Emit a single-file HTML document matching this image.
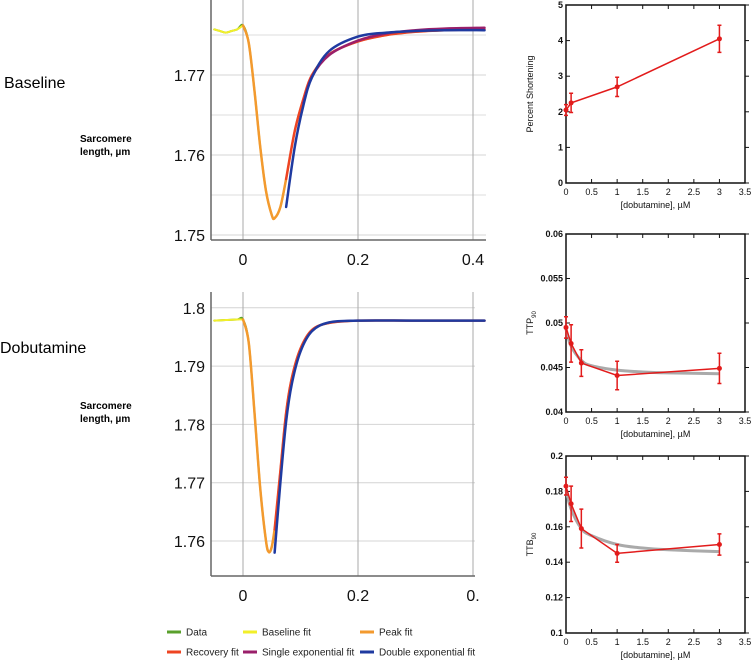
<!DOCTYPE html>
<html><head><meta charset="utf-8"><style>
body{margin:0;background:#fff;width:751px;height:664px;overflow:hidden;font-family:"Liberation Sans",Arial,sans-serif}
svg{position:absolute;left:0;top:0}
</style></head><body>
<svg id="s" width="751" height="664" xmlns="http://www.w3.org/2000/svg">
<text x="4" y="88" font-size="16">Baseline</text>
<text x="0" y="353" font-size="16">Dobutamine</text>
<text x="80" y="142" font-size="10" font-weight="bold"><tspan x="80">Sarcomere</tspan><tspan x="80" dy="13">length, µm</tspan></text>
<text x="80" y="409" font-size="10" font-weight="bold"><tspan x="80">Sarcomere</tspan><tspan x="80" dy="13">length, µm</tspan></text>
<g id="legend" font-size="10" fill="#222"></g>
</svg>
<script>
// ---- Trace data (time s, length µm) ----
const baseT=[-0.05,-0.04,-0.03,-0.02,-0.01,0,0.01,0.02,0.03,0.04,0.05,0.055,0.065,0.075,0.09,0.105,0.12,0.15,0.2,0.25,0.3,0.35,0.42];
const baseY=[1.7757,1.7755,1.7753,1.7755,1.7757,1.7762,1.7740,1.7680,1.7610,1.7555,1.7525,1.7521,1.7535,1.7570,1.7630,1.7670,1.7700,1.7726,1.7742,1.7750,1.7754,1.7756,1.7757];
const baseSingleT=[0.105,0.12,0.15,0.2,0.25,0.3,0.35,0.42];
const baseSingleY=[1.7665,1.7698,1.7725,1.7743,1.7752,1.7756,1.7758,1.7759];
const baseDoubleT=[0.075,0.09,0.105,0.12,0.15,0.2,0.25,0.3,0.35,0.42];
const baseDoubleY=[1.7535,1.7610,1.7662,1.7697,1.7730,1.7748,1.7753,1.7755,1.7756,1.7756];
const dobT=[-0.05,-0.03,-0.01,0,0.01,0.02,0.03,0.04,0.045,0.05,0.055,0.065,0.075,0.085,0.1,0.12,0.15,0.2,0.3,0.42];
const dobY=[1.7978,1.7979,1.7980,1.7980,1.7940,1.7820,1.7690,1.7600,1.7581,1.7590,1.7620,1.7720,1.7820,1.7880,1.7930,1.7962,1.7974,1.7978,1.7978,1.7978];
const dobDoubleT=[0.055,0.065,0.075,0.085,0.1,0.12,0.15,0.2,0.3,0.42];
const dobDoubleY=[1.7580,1.7700,1.7805,1.7870,1.7925,1.7960,1.7975,1.7978,1.7978,1.7978];
// ---- Right panel data ----
const conc=[0,0.1,0.3,1,3];
const psX=[0,0.1,1,3];
const psY=[2.05,2.25,2.7,4.05];
const psErr=[0.15,0.27,0.27,0.38];
const ttpY=[0.0495,0.0477,0.0455,0.0441,0.0449];
const ttpErr=[0.0012,0.0021,0.0015,0.0016,0.0017];
const fitX=[0,0.1,0.3,0.5,1,1.5,2,3];
const ttpFit=[0.0493,0.0474,0.0458,0.0452,0.0447,0.0445,0.0444,0.0443];
const ttbY=[0.183,0.173,0.159,0.145,0.150];
const ttbErr=[0.005,0.010,0.011,0.005,0.006];
const ttbFit=[0.181,0.170,0.159,0.155,0.150,0.148,0.147,0.146];
const xTicks=[0,0.5,1,1.5,2,2.5,3,3.5];
const xTickLabels=["0","0.5","1","1.5","2","2.5","3","3.5"];

const S=document.getElementById('s');const NS='http://www.w3.org/2000/svg';
function el(t,a,p){const e=document.createElementNS(NS,t);for(const k in a)e.setAttribute(k,a[k]);(p||S).appendChild(e);return e;}
function smooth(pts){let d='M'+pts[0][0]+','+pts[0][1];for(let i=0;i<pts.length-1;i++){const p0=pts[i-1]||pts[i],p1=pts[i],p2=pts[i+1],p3=pts[i+2]||p2;
d+=' C'+(p1[0]+(p2[0]-p0[0])/6)+','+(p1[1]+(p2[1]-p0[1])/6)+' '+(p2[0]-(p3[0]-p1[0])/6)+','+(p2[1]-(p3[1]-p1[1])/6)+' '+p2[0]+','+p2[1];}return d;}
function sub(T,Y,a,b){const t=[],y=[];T.forEach((v,i)=>{if(v>=a-1e-9&&v<=b+1e-9){t.push(v);y.push(Y[i]);}});return [t,y];}

function trace(o){
 const sx=t=>o.x0+t*o.kx, sy=v=>o.yref-(v-o.ymin)*o.ky;
 const g=el('g',{});
 o.minor.forEach(v=>el('line',{x1:o.left,x2:o.right,y1:sy(v),y2:sy(v),stroke:'#ddd','stroke-width':1},g));
 o.major.forEach((v,i)=>{el('line',{x1:o.left,x2:o.right,y1:sy(v),y2:sy(v),stroke:'#d4d4d4','stroke-width':1},g);
  const t=el('text',{x:o.left-6,y:sy(v)+6,'font-size':16,'text-anchor':'end',fill:'#111'},g);t.textContent=o.labels[i];});
 o.xl.forEach((lab,i)=>{const v=[0,0.2,0.4][i];el('line',{x1:sx(v),x2:sx(v),y1:o.top,y2:o.yb,stroke:'#aaa','stroke-width':1},g);
  const t=el('text',{x:sx(v),y:o.yb+25,'font-size':16,'text-anchor':'middle',fill:'#111'},g);t.textContent=lab;});
 el('line',{x1:o.left,x2:o.left,y1:o.top,y2:o.yb,stroke:'#666','stroke-width':1.5},g);
 el('line',{x1:o.left,x2:o.right,y1:o.yb,y2:o.yb,stroke:'#666','stroke-width':1.5},g);
 const line=(T,Y,c,w,n)=>{const p=el('path',{d:smooth(T.map((t,i)=>[sx(t),sy(Y[i])])),fill:'none',stroke:c,'stroke-width':w,'stroke-linecap':'round'},g);};
 line(o.T,o.Y,'#5aa02c',2,'data-trace');
 let s=sub(o.T,o.Y,-0.05,0);line(s[0],s[1],'#f2ef2a',2,'baseline-fit');
 s=sub(o.T,o.Y,0,o.pk);line(s[0],s[1],'#f39a2e',2.5,'peak-fit');
 s=sub(o.T,o.Y,o.pk,0.42);line(s[0],s[1],'#ee4422',2.5,'recovery-fit');
 if(o.sT)line(o.sT,o.sY,'#9a1f6a',2.5,'single-exponential-fit');
 line(o.dT,o.dY,'#1f3aa0',2.5,'double-exponential-fit');
}
trace({name:'baseline-trace-chart',left:211,right:486,top:0,yb:240,yref:235,x0:243,kx:575,ymin:1.75,ky:8000,major:[1.75,1.76,1.77],labels:['1.75','1.76','1.77'],minor:[1.755,1.765,1.775],xl:['0','0.2','0.4'],
 T:baseT,Y:baseY,pk:0.075,sT:baseSingleT,sY:baseSingleY,dT:baseDoubleT,dY:baseDoubleY});
trace({name:'dobutamine-trace-chart',left:211,right:475,top:292,yb:576,yref:541,x0:243,kx:575,ymin:1.76,ky:5830,major:[1.76,1.77,1.78,1.79,1.8],labels:['1.76','1.77','1.78','1.79','1.8'],minor:[],xl:['0','0.2','0.'],
 T:dobT,Y:dobY,pk:0.055,dT:dobDoubleT,dY:dobDoubleY});

function panel(o){
 const L=566,R=745,sx=v=>L+v/3.5*(R-L),sy=v=>o.bot-(v-o.ymin)/(o.ymax-o.ymin)*(o.bot-o.top);
 const g=el('g',{});
 el('rect',{x:L,y:o.top,width:R-L,height:o.bot-o.top,fill:'none',stroke:'#111','stroke-width':1.5},g);
 xTicks.forEach((v,i)=>{el('line',{x1:sx(v),x2:sx(v),y1:o.top,y2:o.top+4,stroke:'#111'},g);el('line',{x1:sx(v),x2:sx(v),y1:o.bot,y2:o.bot-4,stroke:'#111'},g);
  const t=el('text',{x:sx(v),y:o.bot+12,'font-size':9,'text-anchor':'middle',fill:'#111'},g);t.textContent=xTickLabels[i];});
 o.yt.forEach((v,i)=>{el('line',{x1:L,x2:L+4,y1:sy(v),y2:sy(v),stroke:'#111'},g);el('line',{x1:R,x2:R+4,y1:sy(v),y2:sy(v),stroke:'#111'},g);
  const t=el('text',{x:L-3,y:sy(v)+3,'font-size':9,'font-weight':'bold','text-anchor':'end',fill:'#111'},g);t.textContent=o.yl[i];});
 const xl=el('text',{x:(L+R)/2,y:o.bot+25,'font-size':9,'text-anchor':'middle',fill:'#111'},g);xl.textContent='[dobutamine], µM';
 const yl=el('text',{x:0,y:0,'font-size':9,'text-anchor':'middle',fill:'#111',transform:'translate('+(L-33)+','+((o.top+o.bot)/2)+') rotate(-90)'},g);
 yl.innerHTML=o.ylab;
 if(o.fit){el('path',{d:smooth(fitX.map((x,i)=>[sx(x),sy(o.fit[i])])),fill:'none',stroke:'#aaa','stroke-width':3},g);}
 el('polyline',{points:o.x.map((x,i)=>sx(x)+','+sy(o.y[i])).join(' '),fill:'none',stroke:'#e21b1b','stroke-width':1.5},g);
 o.x.forEach((x,i)=>{const X=sx(x),a=sy(o.y[i]-o.e[i]),b=sy(o.y[i]+o.e[i]);
  const eb=el('path',{d:'M'+X+','+a+'V'+b+'M'+(X-2)+','+a+'H'+(X+2)+'M'+(X-2)+','+b+'H'+(X+2),stroke:'#e21b1b','stroke-width':1.5,fill:'none'},g);
  
  const c=el('circle',{cx:X,cy:sy(o.y[i]),r:2.5,fill:'#e21b1b'},g);
  });
}
panel({name:'percent-shortening-chart',top:5,bot:183,ymin:0,ymax:5,yt:[0,1,2,3,4,5],yl:['0','1','2','3','4','5'],ylab:'Percent Shortening',x:psX,y:psY,e:psErr});
panel({name:'ttp90-chart',top:234,bot:412,ymin:0.04,ymax:0.06,yt:[0.04,0.045,0.05,0.055,0.06],yl:['0.04','0.045','0.05','0.055','0.06'],ylab:'TTP<tspan font-size="6" dy="3">90</tspan>',x:conc,y:ttpY,e:ttpErr,fit:ttpFit});
panel({name:'ttb90-chart',top:456,bot:633,ymin:0.1,ymax:0.2,yt:[0.1,0.12,0.14,0.16,0.18,0.2],yl:['0.1','0.12','0.14','0.16','0.18','0.2'],ylab:'TTB<tspan font-size="6" dy="3">90</tspan>',x:conc,y:ttbY,e:ttbErr,fit:ttbFit});

const lg=document.getElementById('legend');
[['Data','#5aa02c',167,632],['Baseline fit','#f2ef2a',243,632],['Peak fit','#f39a2e',360,632],
 ['Recovery fit','#ee4422',167,652],['Single exponential fit','#9a1f6a',243,652],['Double exponential fit','#1f3aa0',360,652]].forEach(e=>{
 const g=el('g',{},lg);
 el('line',{x1:e[2],x2:e[2]+14,y1:e[3],y2:e[3],stroke:e[1],'stroke-width':3},g);
 const t=el('text',{x:e[2]+19,y:e[3]+3.5},g);t.textContent=e[0];});
</script>
</body></html>
